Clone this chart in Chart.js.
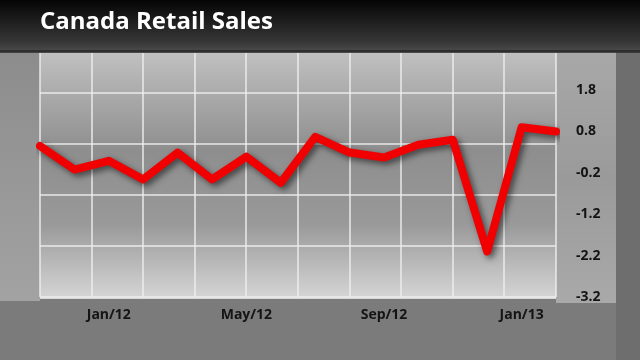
<!DOCTYPE html>
<html>
<head>
<meta charset="utf-8">
<script src="https://cdn.jsdelivr.net/npm/chart.js@4.4.1/dist/chart.umd.min.js"></script>
<style>
  html, body { margin: 0; padding: 0; background: #7d7d7d; }
  #wrap { width: 640px; height: 360px; }
</style>
</head>
<body>
<div id="wrap"><canvas id="retail"></canvas></div>
<script>
/* --------------- Data --------------------- */
const months = ["Nov/11", "Dec/11", "Jan/12", "Feb/12", "Mar/12", "Apr/12", "May/12", "Jun/12",
  "Jul/12", "Aug/12", "Sep/12", "Oct/12", "Nov/12", "Dec/12", "Jan/13", "Feb/13"];
const salesChange = [0.45, -0.12, 0.09, -0.36, 0.29, -0.36, 0.19, -0.44,
  0.67, 0.29, 0.17, 0.48, 0.6, -2.1, 0.9, 0.8];
const shownMonths = ["Jan/12", "May/12", "Sep/12", "Jan/13"];
const yTicks = [-3.2, -2.2, -1.2, -0.2, 0.8, 1.8];

/* --------------- Backdrop (TV style panels) --------------------- */
const backdrop = {
  id: "backdrop",
  beforeDraw(chart) {
    const { ctx, width, height, chartArea: a } = chart;
    ctx.save();
    // top band
    let g = ctx.createLinearGradient(0, 0, 0, 52);
    g.addColorStop(0, "#050505");
    g.addColorStop(0.8, "#363636");
    g.addColorStop(1, "#4c4c4c");
    ctx.fillStyle = g;
    ctx.fillRect(0, 0, width, 52);
    // lower body
    ctx.fillStyle = "#7b7b7b";
    ctx.fillRect(0, 52, width, height - 52);
    ctx.fillStyle = "#2e2e2e";
    ctx.fillRect(0, 50, width, 3);
    // left strip
    g = ctx.createLinearGradient(0, a.top, 0, a.bottom);
    g.addColorStop(0, "#8c8c8c");
    g.addColorStop(1, "#a2a2a2");
    ctx.fillStyle = g;
    ctx.fillRect(0, a.top, a.left, a.bottom - a.top + 4);
    // right label panel
    g = ctx.createLinearGradient(0, a.top, 0, a.bottom + 6);
    g.addColorStop(0, "#a8a8a8");
    g.addColorStop(0.5, "#9a9a9a");
    g.addColorStop(1, "#a9a9a9");
    ctx.fillStyle = g;
    ctx.fillRect(a.right, a.top, 60, a.bottom - a.top + 6);
    ctx.fillStyle = "#6e6e6e";
    ctx.fillRect(a.right + 60, a.top, width - a.right - 60, height - a.top);
    // plot area
    g = ctx.createLinearGradient(0, a.top, 0, a.bottom);
    g.addColorStop(0, "#c0c0c0");
    g.addColorStop(0.4, "#8e8e8e");
    g.addColorStop(0.7, "#999999");
    g.addColorStop(1, "#d4d4d4");
    ctx.fillStyle = g;
    ctx.fillRect(a.left, a.top, a.right - a.left, a.bottom - a.top);
    ctx.fillStyle = "#d8d8d8";
    ctx.fillRect(a.left, a.bottom - 1, a.right - a.left, 3);
    ctx.restore();
  }
};

/* --------------- Drop shadow under the line --------------------- */
const lineShadow = {
  id: "lineShadow",
  beforeDatasetDraw(chart) {
    const ctx = chart.ctx;
    ctx.save();
    ctx.shadowColor = "rgba(0,0,0,0.55)";
    ctx.shadowBlur = 6;
    ctx.shadowOffsetX = 3;
    ctx.shadowOffsetY = 3;
  },
  afterDatasetDraw(chart) {
    chart.ctx.restore();
  }
};

const gridLine = "rgba(238,238,238,0.7)";

new Chart(document.getElementById("retail"), {
  type: "line",
  plugins: [backdrop, lineShadow],
  data: {
    labels: months,
    datasets: [{
      data: salesChange,
      borderColor: "#f00000",
      borderWidth: 8,
      borderCapStyle: "round",
      borderJoinStyle: "round",
      pointRadius: 0,
      tension: 0,
      yAxisID: "y",
      xAxisID: "x"
    }]
  },
  options: {
    responsive: true,
    maintainAspectRatio: false,
    animation: false,
    layout: { padding: { left: 40, right: 24, top: 0, bottom: 33 } },
    plugins: {
      legend: { display: false },
      tooltip: { enabled: false },
      title: {
        display: true,
        text: "Canada Retail Sales",
        align: "start",
        color: "#ffffff",
        font: { family: "'Open Sans'", size: 24, weight: "bold", lineHeight: 1.2 },
        padding: { top: 8, bottom: 16 }
      }
    },
    scales: {
      x: {
        type: "category",
        offset: false,
        grid: { display: false },
        border: { display: false },
        afterFit: (s) => { s.height = 30; },
        ticks: {
          autoSkip: false,
          maxRotation: 0,
          padding: 2,
          color: "#141414",
          font: { family: "'Open Sans'", size: 14, weight: "bold" },
          callback: (v, i) => (shownMonths.includes(months[i]) ? months[i] : "")
        }
      },
      gx: {
        type: "linear",
        position: "top",
        min: 0,
        max: 10,
        grid: { color: gridLine, lineWidth: 2, drawTicks: false },
        border: { display: false },
        ticks: { display: false, stepSize: 1 },
        afterFit: (s) => { s.height = 0; }
      },
      gy: {
        type: "linear",
        position: "left",
        min: 0,
        max: 4.78,
        grid: { color: gridLine, lineWidth: 2, drawTicks: false },
        border: { display: false },
        ticks: { display: false },
        afterBuildTicks: (s) => { s.ticks = [0, 1, 2, 3, 4].map((v) => ({ value: v })); },
        afterFit: (s) => { s.width = 0; }
      },
      y: {
        position: "right",
        min: -3.2,
        max: 2.7,
        grid: { display: false },
        border: { display: false },
        afterBuildTicks: (s) => { s.ticks = yTicks.map((v) => ({ value: v })); },
        afterFit: (s) => { s.width = 60; },
        ticks: {
          padding: 12,
          color: "#141414",
          font: { family: "'Open Sans'", size: 14, weight: "bold" },
          callback: (v) => v.toFixed(1)
        }
      }
    }
  }
});
</script>
</body>
</html>
